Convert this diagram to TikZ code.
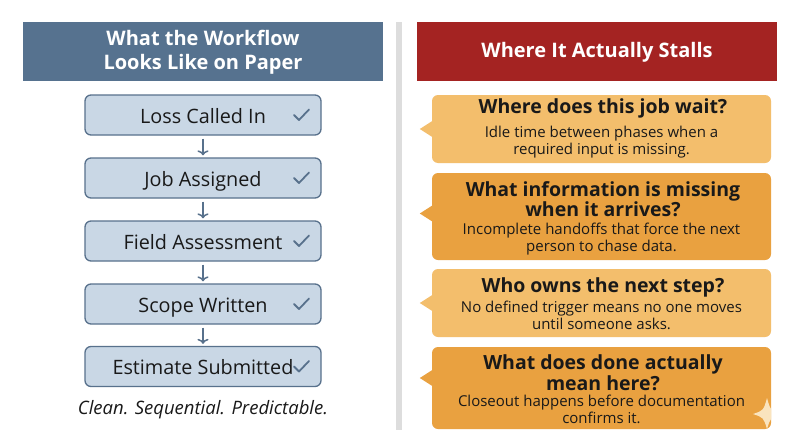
\documentclass[tikz,border=0pt]{standalone}
\usepackage{fontspec}
\setmainfont{Open Sans}
\usetikzlibrary{arrows.meta}
\definecolor{hdrblue}{RGB}{86,114,143}
\definecolor{hdrred}{RGB}{164,35,34}
\definecolor{boxfill}{RGB}{201,215,229}
\definecolor{boxline}{RGB}{88,113,140}
\definecolor{ltorange}{RGB}{243,190,108}
\definecolor{dkorange}{RGB}{233,161,64}
\definecolor{divgray}{RGB}{221,221,221}
\definecolor{sparkcol}{RGB}{250,228,190}
\definecolor{txt}{RGB}{25,25,25}
\begin{document}
\begin{tikzpicture}[x=1pt,y=-1pt,
  header/.style={fill=#1, minimum width=360pt, minimum height=59pt, inner sep=0pt},
  headtext/.style={text=white, font=\fontsize{20}{24}\selectfont\bfseries, align=center, inner sep=0pt},
  stepbox/.style={draw=boxline, line width=1.3pt, fill=boxfill, rounded corners=6pt,
    minimum width=236pt, minimum height=40pt, inner sep=0pt, text=txt,
    font=\fontsize{19.8}{22}\selectfont, text height=18pt, text depth=2pt},
  flowarrow/.style={draw=boxline, line width=1.5pt, -{To[length=5pt,width=11pt]}},
  checkmark/.style={draw=boxline, line width=1.8pt, line cap=round, line join=round},
  callout/.style={fill=#1, rounded corners=6pt, minimum width=339pt, inner sep=0pt},
  qtitle/.style={text=txt, font=\fontsize{19.5}{19}\selectfont\bfseries, align=center, inner sep=0pt},
  qbody/.style={text=txt, font=\fontsize{15}{17.5}\selectfont, align=center, inner sep=0pt},
]
\useasboundingbox (0,0) rectangle (800,447);
\fill[white] (0,0) rectangle (800,447);

% divider
\fill[divgray] (396,22) rectangle (402,430);

% headers
\node[header=hdrblue] (hl) at (203,51.5) {};
\node[headtext] (hlt) at (203,52) {What the Workflow\\Looks Like on Paper};
\node[header=hdrred] (hr) at (597,51.5) {};
\node[headtext] (hrt) at (597,52) {Where It Actually Stalls};

% left flow
\node[stepbox] (b1) at (203,115) {Loss Called In};
\node[stepbox] (b2) at (203,178) {Job Assigned};
\node[stepbox] (b3) at (203,241) {Field Assessment};
\node[stepbox] (b4) at (203,304) {Scope Written};
\node[stepbox] (b5) at (203,366.5) {Estimate Submitted};

\foreach \b in {b1,b2,b3,b4,b5}{
  \draw[checkmark] ([xshift=91pt,yshift=0pt]\b.center) -- ++(5,5) -- ++(10,-10.5);
}

\draw[flowarrow] ([yshift=-3pt]b1.south) -- ([yshift=2pt]b2.north);
\draw[flowarrow] ([yshift=-3pt]b2.south) -- ([yshift=2pt]b3.north);
\draw[flowarrow] ([yshift=-3pt]b3.south) -- ([yshift=2pt]b4.north);
\draw[flowarrow] ([yshift=-3pt]b4.south) -- ([yshift=2pt]b5.north);

\node[text=txt, font=\fontsize{18.5}{20}\selectfont\itshape, inner sep=0pt] (cap) at (203,410) {Clean. Sequential. Predictable.};

% right callouts
\node[callout=ltorange, minimum height=68pt] (c1) at (601.5,129) {};
\node[callout=dkorange, minimum height=87pt] (c2) at (601.5,216.5) {};
\node[callout=ltorange, minimum height=68pt] (c3) at (601.5,303) {};
\node[callout=dkorange, minimum height=82pt] (c4) at (601.5,388) {};

\fill[ltorange] ([xshift=0.5pt,yshift=8pt]c1.west) -- ++(-12.5,8) -- ++(12.5,8) -- cycle;
\fill[dkorange] ([xshift=0.5pt,yshift=11pt]c2.west) -- ++(-12.5,8) -- ++(12.5,8) -- cycle;
\fill[ltorange] ([xshift=0.5pt,yshift=8pt]c3.west) -- ++(-12.5,8) -- ++(12.5,8) -- cycle;
\fill[dkorange] ([xshift=0.5pt,yshift=18pt]c4.west) -- ++(-12.5,8) -- ++(12.5,8) -- cycle;

% sparkle
\begin{scope}
\clip[rounded corners=6pt] (c4.south west) rectangle (c4.north east);
\fill[sparkcol] (753,414) .. controls (763.5,410.5) .. (767,398)
  .. controls (770.5,410.5) .. (781,414) .. controls (770.5,417.5) .. (767,429)
  .. controls (763.5,417.5) .. cycle;
\end{scope}

\node[qtitle] (q1) at (603,108) {Where does this job wait?};
\node[qbody] (d1) at (601.5,142) {Idle time between phases when a\\required input is missing.};

\node[qtitle] (q2) at (603,199) {What information is missing\\when it arrives?};
\node[qbody] (d2) at (601.5,239) {Incomplete handoffs that force the next\\person to chase data.};

\node[qtitle] (q3) at (603,287) {Who owns the next step?};
\node[qbody] (d3) at (601.5,315.5) {No defined trigger means no one moves\\until someone asks.};

\node[qtitle] (q4) at (603,372.5) {What does done actually\\mean here?};
\node[qbody] (d4) at (601.5,409.5) {Closeout happens before documentation\\confirms it.};
\end{tikzpicture}
\end{document}
